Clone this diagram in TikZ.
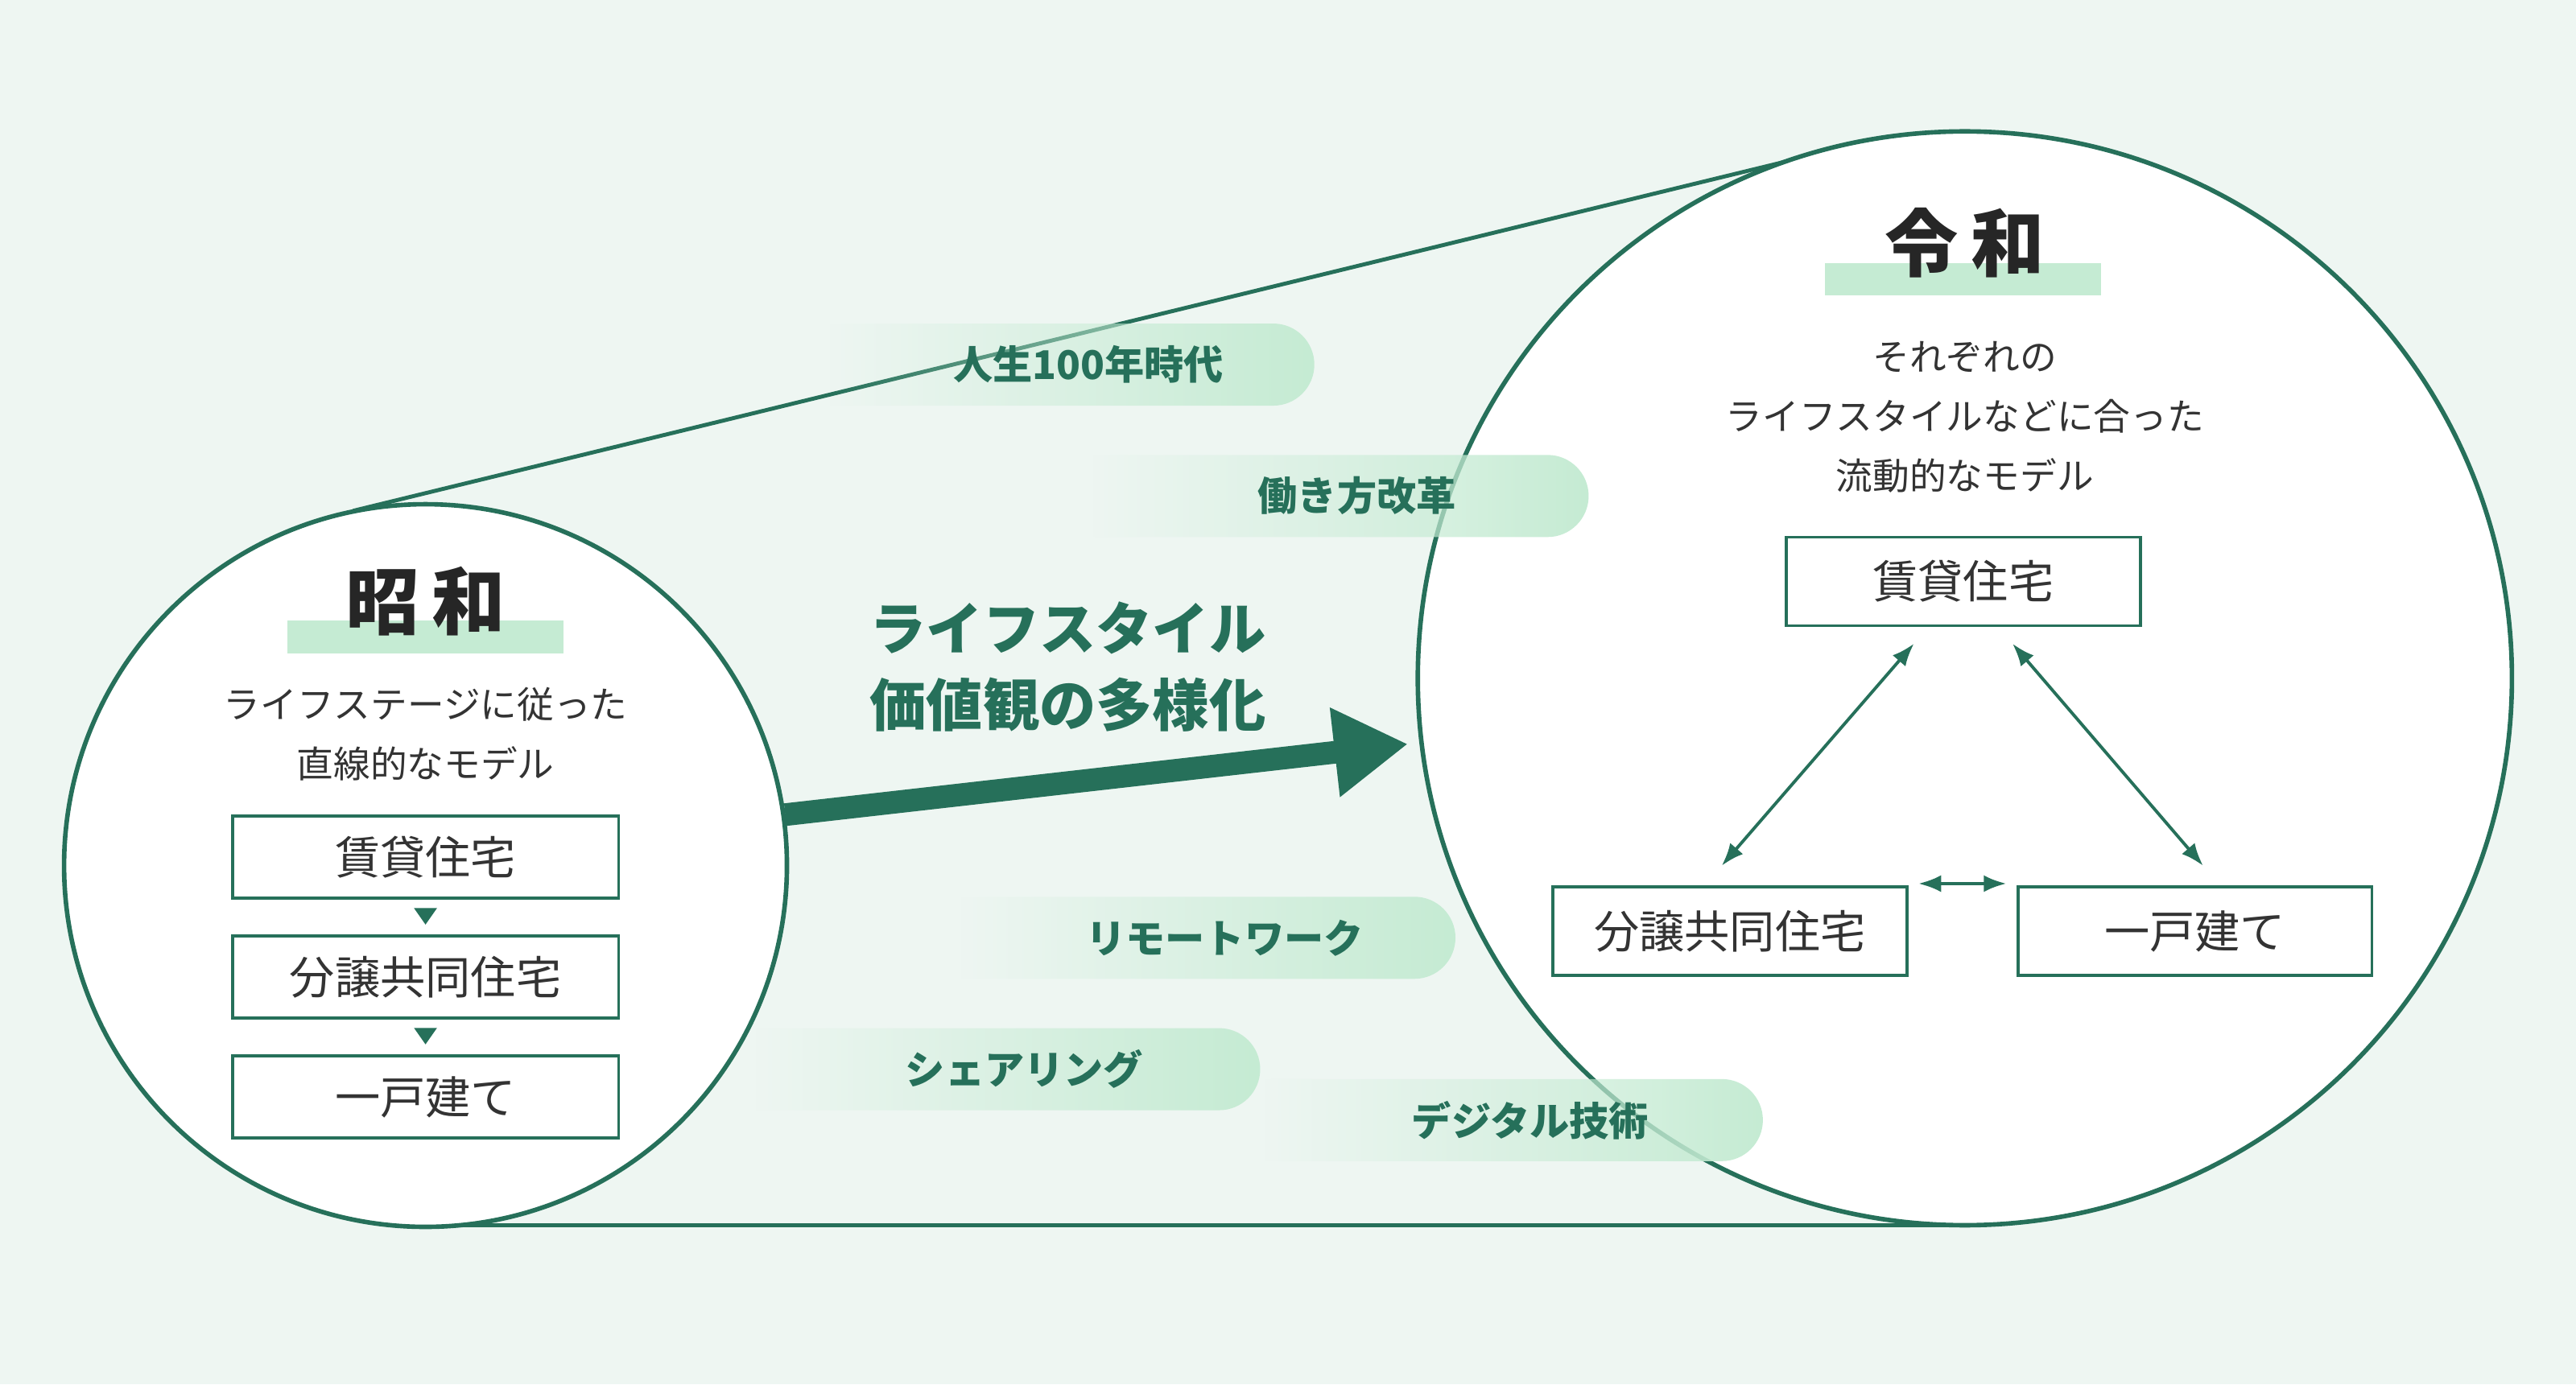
\documentclass[tikz,border=0pt]{standalone}
\usepackage{fontspec}
\setmainfont{Noto Sans CJK JP}
\usetikzlibrary{arrows.meta,fadings,positioning,calc}
\definecolor{bgmint}{HTML}{EEF6F2}
\definecolor{mint}{HTML}{C5EBD3}
\definecolor{dkgreen}{HTML}{26705A}
\tikzset{
  ring/.style={draw=dkgreen,line width=1.6pt,fill=white},
  housebox/.style={draw=dkgreen,line width=1.1pt,minimum width=48mm,minimum height=10.2mm,font=\fontsize{16}{18}\selectfont,text=black!80},
  subtext/.style={align=center,font=\fontsize{13}{21}\selectfont,text=black!80},
  eratitle/.style={font=\fontsize{26}{28}\selectfont\bfseries,text=black!85},
  pilltext/.style={font=\fontsize{14}{16}\selectfont\bfseries,text=dkgreen},
  twoway/.style={{Latex[length=8pt]}-{Latex[length=8pt]},draw=dkgreen,line width=1.1pt}
}
\newcommand{\pill}[5]{% name, x1, x2, ytop, text
  \fill[mint,path fading=west] (#2,#4) -- (#3-25,#4) arc[start angle=90,end angle=-90,radius=5.1mm] -- (#2,#4+50) -- cycle;
  \node[pilltext] (#1) at ({(#2+#3)/2+10},#4+25) {#5};
}
\begin{document}
\begin{tikzpicture}[x=0.2041mm,y=-0.2041mm]
\fill[bgmint] (0,0) rectangle (1568,843);
\useasboundingbox (0,0) rectangle (1568,843);

% tangent lines
\draw[dkgreen,line width=1.4pt] (215,311) -- (1150,83);
\draw[dkgreen,line width=1.4pt] (259,746) -- (1196,746);

% circles
\filldraw[ring] (1196,413) circle (333);
\filldraw[ring] (259,527) circle (220);

% labels
\pill{p1}{505}{800}{197}{人生100年時代}
\pill{p2}{665}{967}{277}{働き方改革}
\pill{p3}{585}{886}{546}{リモートワーク}
\pill{p4}{460}{767}{626}{シェアリング}
\pill{p5}{770}{1073}{657}{デジタル技術}

% big arrow
\coordinate (from) at (478,496);
\coordinate (to) at (857,453);
\draw[dkgreen,line width=8pt,-{Triangle[length=26pt,width=30pt]}] (from) -- (to);
\node[align=center,font=\fontsize{20}{27}\selectfont\bfseries,text=dkgreen] (shift) at (650,406) {ライフスタイル\\価値観の多様化};

% showa
\fill[mint] (175,378) rectangle (343,398);
\node[eratitle] (showa) at (259,366) {昭\,和};
\node[subtext] (showasub) at (259,447) {ライフステージに従った\\直線的なモデル};
\node[housebox] (s1) at (259,522) {賃貸住宅};
\node[housebox,below=4.3mm of s1] (s2) {分譲共同住宅};
\node[housebox,below=4.3mm of s2] (s3) {一戸建て};
\fill[dkgreen] ($(s1.south)+(-7,5)$) -- ++(14,0) -- ++(-7,10) -- cycle;
\fill[dkgreen] ($(s2.south)+(-7,5)$) -- ++(14,0) -- ++(-7,10) -- cycle;

% reiwa
\fill[mint] (1111,160) rectangle (1279,180);
\node[eratitle] (reiwa) at (1196,148) {令\,和};
\node[subtext] (reiwasub) at (1196,254) {それぞれの\\ライフスタイルなどに合った\\流動的なモデル};
\node[housebox,minimum width=44mm,minimum height=11mm] (r1) at (1195,354) {賃貸住宅};
\node[housebox,minimum width=44mm,minimum height=11mm] (r2) at (1053,567) {分譲共同住宅};
\node[housebox,minimum width=44mm,minimum height=11mm] (r3) at (1336,567) {一戸建て};
\draw[twoway] ($(r1.south)+(-30,10)$) -- ($(r2.north)+(-5,-12)$);
\draw[twoway] ($(r1.south)+(30,10)$) -- ($(r3.north)+(5,-12)$);
\draw[twoway] ($(r2.east)+(6,-29)$) -- ($(r3.west)+(-6,-29)$);
\end{tikzpicture}
\end{document}
